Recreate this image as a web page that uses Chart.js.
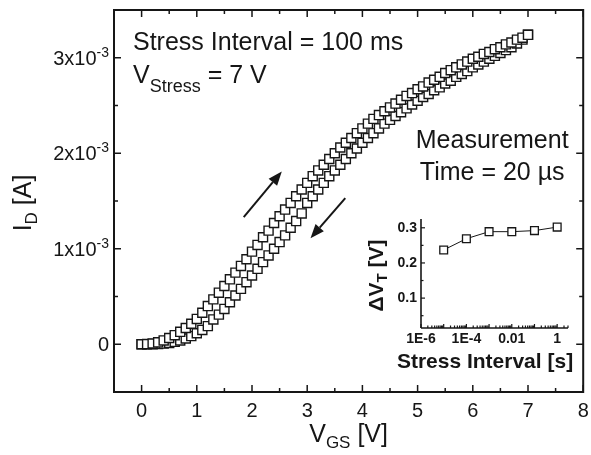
<!DOCTYPE html>
<html>
<head>
<meta charset="utf-8">
<script src="https://cdn.jsdelivr.net/npm/chart.js@4/dist/chart.umd.min.js"></script>
<style>
  html, body { margin: 0; padding: 0; background: #fff; }
  #wrap { position: relative; width: 591px; height: 455px; }
  #main { position: absolute; left: 0; top: 0; }
  #inset { position: absolute; left: 360px; top: 205px; }
</style>
</head>
<body>
<div id="wrap">
  <canvas id="main" width="591" height="455"></canvas>
  <canvas id="inset" width="225" height="175"></canvas>
</div>
<script>
// ── gate sweep, 0 → 7 V in 0.1 V steps ──
const vgs = [
  0.0, 0.1, 0.2, 0.3, 0.4, 0.5, 0.6, 0.7, 0.8, 0.9,
  1.0, 1.1, 1.2, 1.3, 1.4, 1.5, 1.6, 1.7, 1.8, 1.9,
  2.0, 2.1, 2.2, 2.3, 2.4, 2.5, 2.6, 2.7, 2.8, 2.9,
  3.0, 3.1, 3.2, 3.3, 3.4, 3.5, 3.6, 3.7, 3.8, 3.9,
  4.0, 4.1, 4.2, 4.3, 4.4, 4.5, 4.6, 4.7, 4.8, 4.9,
  5.0, 5.1, 5.2, 5.3, 5.4, 5.5, 5.6, 5.7, 5.8, 5.9,
  6.0, 6.1, 6.2, 6.3, 6.4, 6.5, 6.6, 6.7, 6.8, 6.9,
  7.0
];

// drain current in mA, up sweep (left branch)
const idUp = [
  0.000, 0.002, 0.008, 0.020, 0.040, 0.065, 0.095, 0.130, 0.170, 0.215,
  0.265, 0.330, 0.400, 0.470, 0.540, 0.610, 0.680, 0.750, 0.820, 0.890,
  0.970, 1.040, 1.120, 1.190, 1.270, 1.340, 1.410, 1.480, 1.550, 1.620,
  1.690, 1.760, 1.820, 1.880, 1.940, 2.000, 2.060, 2.110, 2.160, 2.210,
  2.260, 2.310, 2.360, 2.400, 2.440, 2.480, 2.520, 2.560, 2.600, 2.630,
  2.670, 2.700, 2.740, 2.770, 2.800, 2.840, 2.870, 2.900, 2.930, 2.960,
  2.990, 3.010, 3.040, 3.060, 3.090, 3.110, 3.140, 3.160, 3.190, 3.210,
  3.240
];

// drain current in mA, down sweep (right branch)
const idDown = [
  0.000, 0.000, 0.001, 0.003, 0.007, 0.014, 0.025, 0.040, 0.060, 0.085,
  0.115, 0.150, 0.190, 0.260, 0.310, 0.370, 0.440, 0.510, 0.580, 0.650,
  0.720, 0.790, 0.860, 0.930, 1.000, 1.070, 1.140, 1.220, 1.290, 1.370,
  1.480, 1.550, 1.620, 1.690, 1.760, 1.820, 1.880, 1.940, 2.000, 2.050,
  2.110, 2.160, 2.210, 2.260, 2.310, 2.350, 2.390, 2.430, 2.470, 2.510,
  2.550, 2.590, 2.620, 2.660, 2.690, 2.730, 2.760, 2.800, 2.830, 2.860,
  2.900, 2.930, 2.960, 2.990, 3.020, 3.050, 3.080, 3.110, 3.150, 3.190,
  3.240
];

const xMajorTicks = [0, 1, 2, 3, 4, 5, 6, 7, 8];
const xMinorTicks = [-0.5, 0.5, 1.5, 2.5, 3.5, 4.5, 5.5, 6.5, 7.5];
const xTickLabels = ['0', '1', '2', '3', '4', '5', '6', '7', '8'];
const yMajorTicks = [0, 1e-3, 2e-3, 3e-3];
const yMinorTicks = [0.5e-3, 1.5e-3, 2.5e-3];
const yTickMantissa = ['0', '1x10', '2x10', '3x10'];
const yTickExponent = ['', '-3', '-3', '-3'];

// inset: threshold shift vs. stress interval
const stressInterval = [1e-5, 1e-4, 1e-3, 1e-2, 1e-1, 1];
const deltaVt = [0.237, 0.269, 0.289, 0.289, 0.292, 0.302];
const insetYTicks = [0.1, 0.2, 0.3];
const insetYMinor = [0.05, 0.15, 0.25];
const insetXTicks = [1e-6, 1e-4, 1e-2, 1];
const insetXLabels = ['1E-6', '1E-4', '0.01', '1'];

const INK = '#161616';
const FONT = '"Liberation Sans", Arial, Helvetica, sans-serif';

// draw a run of text pieces (size, baseline shift, weight) starting at x
function richText(ctx, parts, x, y, align) {
  const w = parts.reduce((s, p) => {
    ctx.font = `${p.bold ? 'bold ' : ''}${p.size}px ${FONT}`;
    return s + ctx.measureText(p.t).width;
  }, 0);
  let cx = align === 'center' ? x - w / 2 : align === 'right' ? x - w : x;
  ctx.textAlign = 'left';
  ctx.textBaseline = 'alphabetic';
  parts.forEach(p => {
    ctx.font = `${p.bold ? 'bold ' : ''}${p.size}px ${FONT}`;
    ctx.fillText(p.t, cx, y + (p.dy || 0));
    cx += ctx.measureText(p.t).width;
  });
}

function seg(ctx, x0, y0, x1, y1) {
  ctx.beginPath();
  ctx.moveTo(x0, y0);
  ctx.lineTo(x1, y1);
  ctx.stroke();
}

function arrow(ctx, x0, y0, x1, y1) {
  const ang = Math.atan2(y1 - y0, x1 - x0);
  const len = 14, half = 5.5;
  const bx = x1 - len * Math.cos(ang), by = y1 - len * Math.sin(ang);
  ctx.lineWidth = 2;
  seg(ctx, x0, y0, bx, by);
  ctx.beginPath();
  ctx.moveTo(x1, y1);
  ctx.lineTo(bx + half * Math.sin(ang), by - half * Math.cos(ang));
  ctx.lineTo(bx - half * Math.sin(ang), by + half * Math.cos(ang));
  ctx.closePath();
  ctx.fill();
}

const mainDecor = {
  id: 'mainDecor',
  afterDraw(chart) {
    const { ctx, chartArea: a, scales: { x, y } } = chart;
    ctx.save();
    ctx.strokeStyle = INK;
    ctx.fillStyle = INK;

    // frame
    ctx.lineWidth = 2;
    ctx.strokeRect(a.left, a.top, a.right - a.left, a.bottom - a.top);

    // inward ticks on all four sides
    ctx.lineWidth = 1.5;
    xMajorTicks.forEach(v => {
      const px = x.getPixelForValue(v);
      seg(ctx, px, a.bottom, px, a.bottom - 7);
      seg(ctx, px, a.top, px, a.top + 7);
    });
    xMinorTicks.forEach(v => {
      const px = x.getPixelForValue(v);
      seg(ctx, px, a.bottom, px, a.bottom - 4);
      seg(ctx, px, a.top, px, a.top + 4);
    });
    yMajorTicks.forEach(v => {
      const py = y.getPixelForValue(v);
      seg(ctx, a.left, py, a.left + 7, py);
      seg(ctx, a.right, py, a.right - 7, py);
    });
    yMinorTicks.forEach(v => {
      const py = y.getPixelForValue(v);
      seg(ctx, a.left, py, a.left + 4, py);
      seg(ctx, a.right, py, a.right - 4, py);
    });

    // tick labels
    ctx.font = `20px ${FONT}`;
    ctx.textAlign = 'center';
    ctx.textBaseline = 'alphabetic';
    xMajorTicks.forEach((v, i) => {
      ctx.fillText(xTickLabels[i], x.getPixelForValue(v), a.bottom + 25);
    });
    yMajorTicks.forEach((v, i) => {
      const py = y.getPixelForValue(v);
      richText(ctx, [
        { t: yTickMantissa[i], size: 20 },
        { t: yTickExponent[i], size: 14, dy: -8 }
      ], a.left - 5, py + 7, 'right');
    });

    // axis titles
    richText(ctx, [
      { t: 'V', size: 25 },
      { t: 'GS', size: 17, dy: 6 },
      { t: ' [V]', size: 25 }
    ], (a.left + a.right) / 2, 442, 'center');

    ctx.save();
    ctx.translate(31, (a.top + a.bottom) / 2 + 2);
    ctx.rotate(-Math.PI / 2);
    richText(ctx, [
      { t: 'I', size: 25 },
      { t: 'D', size: 17, dy: 6 },
      { t: ' [A]', size: 25 }
    ], 0, 0, 'center');
    ctx.restore();

    // annotations
    richText(ctx, [{ t: 'Stress Interval = 100 ms', size: 25 }], a.left + 19, a.top + 40, 'left');
    richText(ctx, [
      { t: 'V', size: 25 },
      { t: 'Stress', size: 18, dy: 9 },
      { t: ' = 7 V', size: 25 }
    ], a.left + 19, a.top + 73, 'left');
    richText(ctx, [{ t: 'Measurement', size: 25 }], a.right - 91, a.top + 138, 'center');
    richText(ctx, [{ t: 'Time = 20 \u00b5s', size: 25 }], a.right - 91, a.top + 170, 'center');

    // sweep direction arrows
    arrow(ctx, x.getPixelForValue(1.85), y.getPixelForValue(1.33e-3),
               x.getPixelForValue(2.54), y.getPixelForValue(1.81e-3));
    arrow(ctx, x.getPixelForValue(3.69), y.getPixelForValue(1.53e-3),
               x.getPixelForValue(3.06), y.getPixelForValue(1.11e-3));
    ctx.restore();
  }
};

const insetDecor = {
  id: 'insetDecor',
  afterDraw(chart) {
    const { ctx, chartArea: a, scales: { x, y } } = chart;
    ctx.save();
    ctx.strokeStyle = INK;
    ctx.fillStyle = INK;

    // left and bottom axis lines only
    ctx.lineWidth = 1.6;
    seg(ctx, a.left, a.top, a.left, a.bottom);
    seg(ctx, a.left, a.bottom, a.right, a.bottom);

    ctx.lineWidth = 1.2;
    insetYTicks.forEach(v => {
      const py = y.getPixelForValue(v);
      seg(ctx, a.left, py, a.left + 4, py);
    });
    insetYMinor.forEach(v => {
      const py = y.getPixelForValue(v);
      seg(ctx, a.left, py, a.left + 2.5, py);
    });
    // log ticks: every decade, plus 2..9 in between
    for (let e = -6; e <= 0; e++) {
      const dec = Math.pow(10, e);
      const px = x.getPixelForValue(dec);
      seg(ctx, px, a.bottom, px, a.bottom - 4);
      for (let m = 2; m <= 9; m++) {
        const v = m * dec;
        if (v > x.max) break;
        const pm = x.getPixelForValue(v);
        seg(ctx, pm, a.bottom, pm, a.bottom - 2.5);
      }
    }

    ctx.font = `bold 14px ${FONT}`;
    ctx.textBaseline = 'middle';
    ctx.textAlign = 'right';
    insetYTicks.forEach(v => {
      ctx.fillText(v.toFixed(1), a.left - 4, y.getPixelForValue(v));
    });
    ctx.textAlign = 'center';
    insetXTicks.forEach((v, i) => {
      ctx.fillText(insetXLabels[i], x.getPixelForValue(v), a.bottom + 11);
    });

    richText(ctx, [{ t: 'Stress Interval [s]', size: 21, bold: true }], a.left + 64, a.bottom + 40, 'center');

    ctx.save();
    ctx.translate(a.left - 38, (a.top + a.bottom) / 2 + 2);
    ctx.rotate(-Math.PI / 2);
    richText(ctx, [
      { t: '\u0394V', size: 21, bold: true },
      { t: 'T', size: 15, bold: true, dy: 4 },
      { t: ' [V]', size: 21, bold: true }
    ], 0, 0, 'center');
    ctx.restore();
    ctx.restore();
  }
};

const hiddenAxis = {
  grid: { display: false },
  border: { display: false },
  ticks: { display: false }
};

new Chart(document.getElementById('main'), {
  type: 'scatter',
  data: {
    datasets: [
      {
        label: 'up sweep',
        data: vgs.map((v, i) => ({ x: v, y: idUp[i] * 1e-3 })),
        pointStyle: 'rect',
        pointRadius: 6.4,
        backgroundColor: '#fff',
        borderColor: INK,
        borderWidth: 1.4
      },
      {
        label: 'down sweep',
        data: vgs.map((v, i) => ({ x: v, y: idDown[i] * 1e-3 })),
        pointStyle: 'rect',
        pointRadius: 6.4,
        backgroundColor: '#fff',
        borderColor: INK,
        borderWidth: 1.4
      }
    ]
  },
  options: {
    responsive: false,
    animation: false,
    layout: { padding: { top: 10, right: 6, left: 0, bottom: 0 } },
    plugins: { legend: { display: false }, tooltip: { enabled: false } },
    scales: {
      x: { ...hiddenAxis, type: 'linear', min: -0.5, max: 8, afterFit(s) { s.height = 63; } },
      y: { ...hiddenAxis, type: 'linear', min: -0.5e-3, max: 3.5e-3, afterFit(s) { s.width = 114; } }
    }
  },
  plugins: [mainDecor]
});

new Chart(document.getElementById('inset'), {
  type: 'scatter',
  data: {
    datasets: [{
      data: stressInterval.map((t, i) => ({ x: t, y: deltaVt[i] })),
      showLine: true,
      borderColor: INK,
      borderWidth: 1,
      pointStyle: 'rect',
      pointRadius: 5.5,
      pointBackgroundColor: '#fff',
      pointBorderColor: INK,
      pointBorderWidth: 1.3
    }]
  },
  options: {
    responsive: false,
    animation: false,
    layout: { padding: { top: 14, right: 17, left: 0, bottom: 0 } },
    plugins: { legend: { display: false }, tooltip: { enabled: false } },
    scales: {
      x: { ...hiddenAxis, type: 'logarithmic', min: 1e-6, max: 3, afterFit(s) { s.height = 52; } },
      y: { ...hiddenAxis, type: 'linear', min: 0.015, max: 0.325, afterFit(s) { s.width = 61; } }
    }
  },
  plugins: [insetDecor]
});
</script>
</body>
</html>
